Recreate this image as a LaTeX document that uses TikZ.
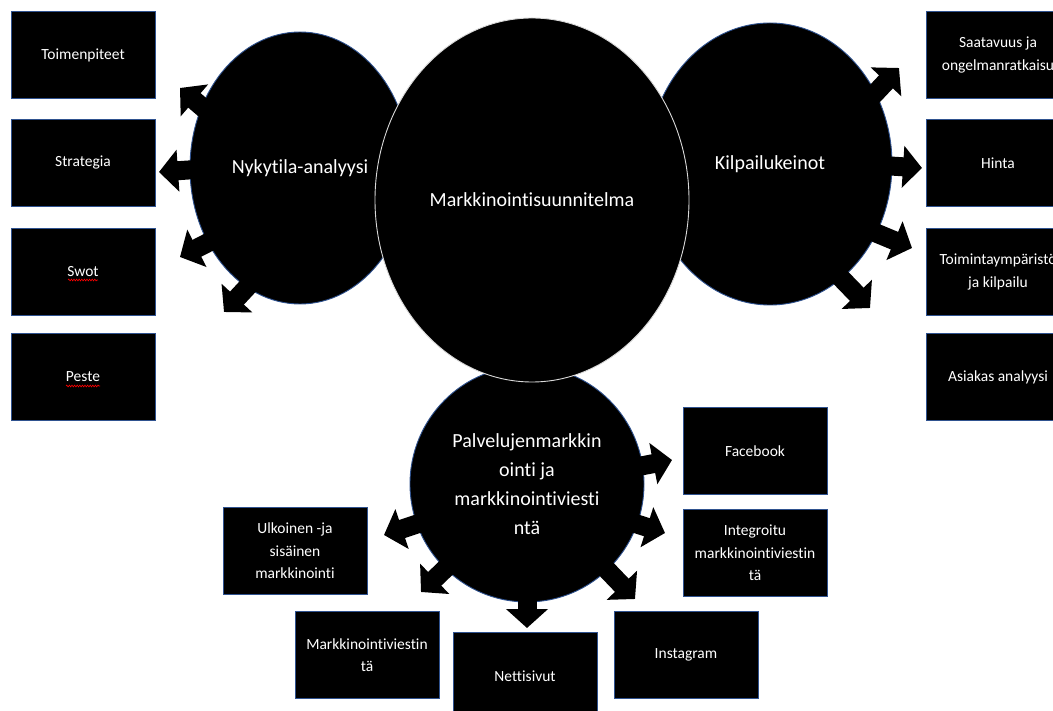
\documentclass[tikz,border=0pt]{standalone}
\usepackage{fontspec}
\setmainfont{Carlito}[Ligatures={NoCommon}]
\usetikzlibrary{shapes.geometric,arrows.meta,decorations.pathmorphing}
\definecolor{boxedge}{HTML}{2F528F}
\tikzset{
  box/.style={draw=boxedge, line width=0.9pt, fill=black, text=white, minimum width=144pt, minimum height=87pt, inner sep=0pt, align=center, font=\fontsize{15.5}{22.5}\selectfont},
  bubble/.style={ellipse, draw=boxedge, line width=0.9pt, fill=black, text=white, inner sep=0pt, align=center, font=\fontsize{20}{29}\selectfont},
  blockarrow/.style={line width=19pt, -{Triangle[width=41pt,length=19pt]}, shorten <=-8pt},
  spellmark/.style={red, line width=0.6pt, decorate, decoration={snake, amplitude=0.9pt, segment length=2.6pt}}
}
\begin{document}
\begin{tikzpicture}[x=1pt, y=-1pt]
                \useasboundingbox (0,0) rectangle (1053,711);
                \clip (0,0) rectangle (1053,711);
                \node at (300,168) [bubble, minimum width=220pt, minimum height=272pt] (nyk) {Nykytila-analyysi};
                \node at (770,164) [bubble, minimum width=244pt, minimum height=282pt] (kil) {Kilpailukeinot};
                \node at (527,484) [bubble, minimum width=234pt, minimum height=236pt] (pal) {Palvelujenmarkkin\\ointi ja\\markkinointiviesti\\ntä};
                \node at (532,200) [bubble, draw=white!85!black, minimum width=314pt, minimum height=364pt] (main) {Markkinointisuunnitelma};

                \node at (83,55) [box] (toim) {Toimenpiteet};
                \node at (83,163) [box] (strat) {Strategia};
                \node at (83,272) [box] (swot) {Swot};
                \node at (83,377) [box] (peste) {Peste};
                \node at (998,55) [box] (saat) {Saatavuus ja\\ongelmanratkaisu};
                \node at (998,163) [box] (hinta) {Hinta};
                \node at (998,272) [box] (toimk) {Toimintaympäristö\\ja kilpailu};
                \node at (998,377) [box] (asiak) {Asiakas analyysi};
                \node at (295,551) [box] (ulk) {Ulkoinen -ja\\sisäinen\\markkinointi};
                \node at (367,655) [box] (mviest) {Markkinointiviestin\\tä};
                \node at (525,676) [box] (netti) {Nettisivut};
                \node at (686,655) [box] (insta) {Instagram};
                \node at (755,451) [box] (fb) {Facebook};
                \node at (755,553) [box] (integ) {Integroitu\\markkinointiviestin\\tä};

                \draw[spellmark] ([shift={(-15,8)}]swot.center) -- ([shift={(15,8)}]swot.center);
                \draw[spellmark] ([shift={(-17,9)}]peste.center) -- ([shift={(17,9)}]peste.center);

                \coordinate (tToim) at (180,88);
                \coordinate (tStrat) at (159,172);
                \coordinate (tSwot) at (180,257);
                \coordinate (tPeste) at (224,312);
                \coordinate (tSaat) at (899,68);
                \coordinate (tHinta) at (922,168);
                \coordinate (tToimk) at (912,248);
                \coordinate (tAsiak) at (870,308);
                \coordinate (tFb) at (672,460);
                \coordinate (tInteg) at (665,533);
                \coordinate (tInsta) at (635,599);
                \coordinate (tNetti) at (527,628);
                \coordinate (tMviest) at (421,592);
                \coordinate (tUlk) at (384,535);

                \draw[blockarrow] (nyk.148) -- (tToim);
                \draw[blockarrow] (nyk.181) -- (tStrat);
                \draw[blockarrow] (nyk.219) -- (tSwot);
                \draw[blockarrow] (nyk.246) -- (tPeste);
                \draw[blockarrow] (kil.34) -- (tSaat);
                \draw[blockarrow] (kil.359) -- (tHinta);
                \draw[blockarrow] (kil.-33) -- (tToimk);
                \draw[blockarrow] (kil.-58) -- (tAsiak);
                \draw[blockarrow] (pal.9) -- (tFb);
                \draw[blockarrow] (pal.-20) -- (tInteg);
                \draw[blockarrow] (pal.-47) -- (tInsta);
                \draw[blockarrow] (pal.270) -- (tNetti);
                \draw[blockarrow] (pal.226) -- (tMviest);
                \draw[blockarrow] (pal.200) -- (tUlk);
            \end{tikzpicture}
\end{document}
